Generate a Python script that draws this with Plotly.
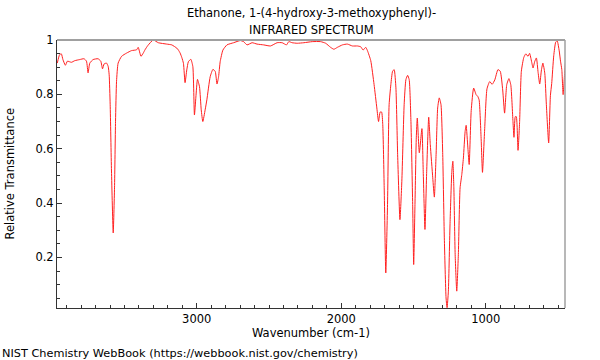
import plotly.graph_objects as go

wavenumber = [
    3965, 3949, 3937, 3926, 3909, 3895, 3867, 3844, 3810, 3780, 3763, 3752, 3740, 3717,
    3683, 3664, 3652, 3641, 3624, 3613, 3606, 3599, 3590, 3578, 3569, 3562, 3555, 3544,
    3520, 3485, 3451, 3416, 3405, 3386, 3370, 3358, 3338, 3301, 3266, 3208, 3173, 3138,
    3127, 3115, 3103, 3092, 3081, 3069, 3058, 3041, 3027, 3016, 3006, 2995, 2981, 2969,
    2958, 2942, 2930, 2907, 2888, 2872, 2860, 2849, 2838, 2819, 2791, 2745, 2699, 2676,
    2652, 2617, 2583, 2537, 2490, 2444, 2409, 2379, 2363, 2340, 2305, 2259, 2201, 2143,
    2108, 2074, 2051, 2027, 1992, 1958, 1923, 1888, 1865, 1849, 1831, 1819, 1796, 1773,
    1754, 1742, 1731, 1721, 1713, 1703, 1692, 1680, 1669, 1657, 1645, 1634, 1622, 1610,
    1594, 1581, 1565, 1553, 1541, 1530, 1518, 1506, 1499, 1490, 1481, 1474, 1460, 1442,
    1433, 1421, 1409, 1395, 1384, 1367, 1356, 1344, 1333, 1322, 1310, 1298, 1287, 1275,
    1268, 1259, 1247, 1235, 1228, 1221, 1212, 1201, 1190, 1178, 1166, 1155, 1143, 1136,
    1124, 1115, 1101, 1084, 1067, 1055, 1046, 1032, 1023, 1008, 992, 973, 956, 938,
    916, 900, 883, 870, 855, 840, 827, 812, 805, 796, 789, 777, 766, 754,
    737, 723, 708, 697, 683, 673, 662, 650, 638, 627, 615, 605, 592, 581,
    565, 553, 544, 530, 516, 506, 492, 483, 474, 465, 453, 442,
]
transmittance = [
    0.915, 0.946, 0.949, 0.928, 0.907, 0.922, 0.918, 0.924, 0.928, 0.931, 0.922, 0.879, 0.915, 0.928,
    0.931, 0.922, 0.894, 0.912, 0.915, 0.903, 0.872, 0.762, 0.518, 0.290, 0.456, 0.701, 0.848, 0.915,
    0.940, 0.952, 0.961, 0.964, 0.973, 0.940, 0.952, 0.964, 0.980, 1.000, 0.990, 0.985, 0.982, 0.970,
    0.963, 0.952, 0.935, 0.914, 0.843, 0.890, 0.920, 0.929, 0.902, 0.724, 0.790, 0.855, 0.828, 0.743,
    0.700, 0.743, 0.780, 0.865, 0.892, 0.884, 0.838, 0.865, 0.920, 0.963, 0.982, 0.990, 0.998, 0.994,
    0.982, 0.990, 0.985, 0.982, 0.978, 0.990, 0.990, 0.982, 0.994, 0.990, 0.988, 0.990, 0.994, 0.994,
    0.988, 0.973, 0.966, 0.973, 0.982, 0.985, 0.978, 0.978, 0.975, 0.963, 0.973, 0.961, 0.924, 0.836,
    0.750, 0.700, 0.735, 0.735, 0.689, 0.456, 0.143, 0.395, 0.762, 0.836, 0.885, 0.891, 0.824, 0.578,
    0.339, 0.480, 0.762, 0.854, 0.870, 0.854, 0.700, 0.395, 0.174, 0.395, 0.640, 0.713, 0.585, 0.674,
    0.517, 0.303, 0.517, 0.716, 0.615, 0.493, 0.422, 0.578, 0.750, 0.787, 0.762, 0.578, 0.272, 0.051,
    0.015, 0.076, 0.333, 0.517, 0.554, 0.456, 0.210, 0.076, 0.210, 0.456, 0.505, 0.566, 0.664, 0.686,
    0.603, 0.542, 0.740, 0.823, 0.799, 0.792, 0.779, 0.632, 0.513, 0.669, 0.820, 0.847, 0.837, 0.853,
    0.891, 0.885, 0.816, 0.731, 0.836, 0.858, 0.835, 0.700, 0.642, 0.718, 0.718, 0.594, 0.700, 0.885,
    0.936, 0.949, 0.940, 0.951, 0.920, 0.897, 0.920, 0.934, 0.880, 0.838, 0.890, 0.915, 0.878, 0.762,
    0.621, 0.795, 0.840, 0.942, 0.993, 0.997, 0.960, 0.922, 0.891, 0.799, 0.890, 0.960,
]

title_lines = ["Ethanone, 1-(4-hydroxy-3-methoxyphenyl)-", "INFRARED SPECTRUM"]
x_ticks = [3000, 2000, 1000]
y_ticks = [0.2, 0.4, 0.6, 0.8, 1]
y_tick_text = ["0.2", "0.4", "0.6", "0.8", "1"]

FONT = "DejaVu Sans"
FS = 11.5

fig = go.Figure()
fig.add_trace(go.Scatter(
    x=wavenumber, y=transmittance, mode="lines",
    line=dict(color="#ff2020", width=1, shape="spline", smoothing=0.5),
    hoverinfo="skip", showlegend=False,
))

fig.update_layout(
    width=600, height=360,
    margin=dict(l=57, r=35, t=40, b=52),
    paper_bgcolor="white", plot_bgcolor="white",
    font=dict(family=FONT, size=FS, color="black"),
    xaxis=dict(
        range=[3967, 452], tickvals=x_ticks, ticktext=[str(v) for v in x_ticks],
        ticks="inside", ticklen=5, tickcolor="#333", showline=True, linecolor="#333",
        linewidth=1, showgrid=False, zeroline=False,
        minor=dict(dtick=100, ticks="inside", ticklen=3, tickcolor="#333", showgrid=False),
        title=dict(text="Wavenumber (cm-1)", standoff=4, font=dict(size=FS)),
        tickfont=dict(size=FS),
    ),
    yaxis=dict(
        range=[0.014, 1.0], tickvals=y_ticks, ticktext=y_tick_text,
        ticks="inside", ticklen=5, tickcolor="#333", showline=True, linecolor="#333",
        linewidth=1, showgrid=False, zeroline=False,
        minor=dict(dtick=0.05, tick0=0, ticks="inside", ticklen=3, tickcolor="#333", showgrid=False),
        tickfont=dict(size=FS),
    ),
    shapes=[
        dict(type="line", xref="paper", yref="paper", x0=0, x1=1, y0=1, y1=1,
             line=dict(color="#a0a0a0", width=2)),
        dict(type="line", xref="paper", yref="paper", x0=1, x1=1, y0=0, y1=1,
             line=dict(color="#a0a0a0", width=1.5)),
    ],
    annotations=[
        dict(text=title_lines[0], xref="paper", yref="paper", x=0.5, y=1, yshift=27,
             showarrow=False, xanchor="center", yanchor="middle", font=dict(size=FS)),
        dict(text=title_lines[1], xref="paper", yref="paper", x=0.5, y=1, yshift=10,
             showarrow=False, xanchor="center", yanchor="middle", font=dict(size=FS)),
        dict(text="Relative Transmittance", xref="paper", yref="paper", x=0, y=0.5,
             xshift=-47.5, textangle=-90, showarrow=False, xanchor="center",
             yanchor="middle", font=dict(size=FS)),
        dict(text="NIST Chemistry WebBook (https://webbook.nist.gov/chemistry)",
             xref="paper", yref="paper", x=0, y=0, xshift=-57, yshift=-45,
             showarrow=False, xanchor="left", yanchor="middle", font=dict(size=11.3)),
    ],
)

fig.write_html("out.html", config={"displayModeBar": False},
               post_script="document.body.style.margin='0';")
